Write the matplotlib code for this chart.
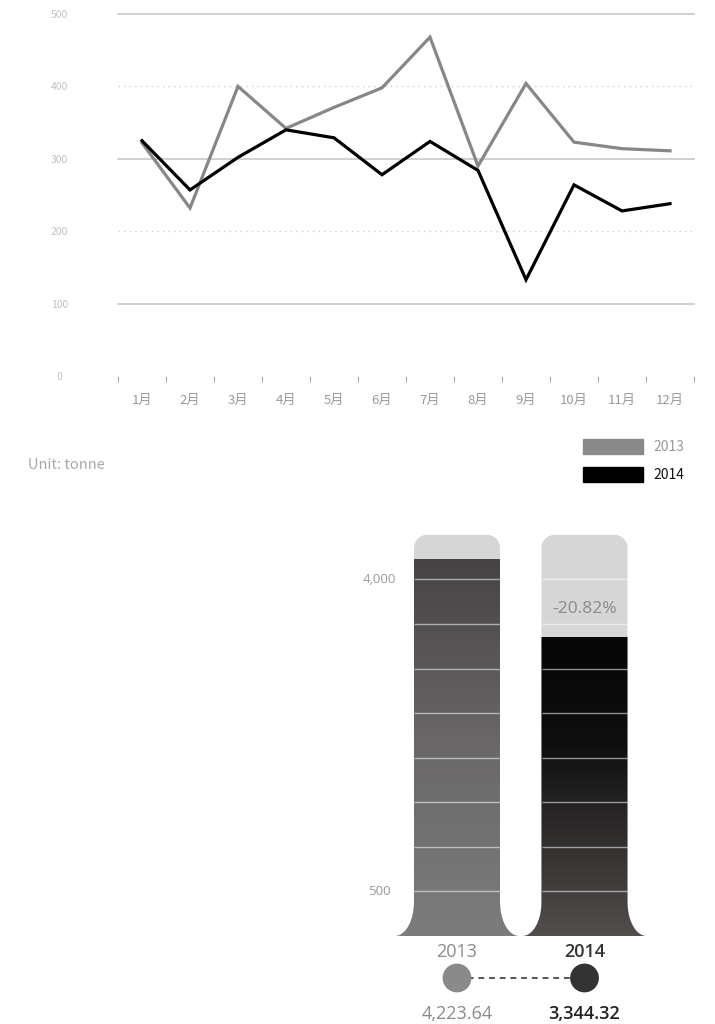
import numpy as np
import matplotlib.pyplot as plt
from matplotlib.colors import LinearSegmentedColormap
from matplotlib.patches import Polygon, Rectangle

plt.rcParams['font.family'] = ['Noto Sans CJK SC', 'DejaVu Sans']
LATIN = ['Open Sans', 'DejaVu Sans']

# --- data ---------------------------------------------------------------
months = ["1月", "2月", "3月", "4月", "5月", "6月",
          "7月", "8月", "9月", "10月", "11月", "12月"]
monthly_2013 = [322, 232, 400, 342, 371, 398, 468, 290, 404, 323, 314, 311]
monthly_2014 = [325, 257, 302, 340, 329, 278, 324, 284, 133, 264, 228, 238]
line_yticks = [0, 100, 200, 300, 400, 500]

years = ["2013", "2014"]
totals = [4223.64, 3344.32]
tube_top = 4500
tube_ticks = [500, 4000]
tube_tick_labels = ["500", "4,000"]

W, H = 715, 1024


def fx(px):
    return px / W


def fy(py):
    return 1 - py / H


fig = plt.figure(figsize=(W / 100, H / 100), dpi=100)
fig.patch.set_facecolor("white")

# ============================ LINE CHART ================================
ax = fig.add_axes([fx(118), fy(376), (694 - 118) / W, (376 - 14) / H])
x = np.arange(len(months)) + 0.5
ax.plot(x, monthly_2013, color="#878787", lw=2.3, zorder=3,
        solid_joinstyle="miter")
ax.plot(x, monthly_2014, color="#000000", lw=2.3, zorder=4,
        solid_joinstyle="miter")

for v in (100, 300, 500):
    ax.axhline(v, color="#c8c8c8", lw=1.2, zorder=1, clip_on=False)
for v in (200, 400):
    ax.axhline(v, color="#cfcfcf", lw=1.0, ls=(0, (1, 3)), zorder=1)

ax.set_xlim(0, 12)
ax.set_ylim(0, 500)
for s in ax.spines.values():
    s.set_visible(False)

ax.set_yticks(line_yticks)
ax.set_yticklabels([str(v) for v in line_yticks], ha="center")
ax.tick_params(axis="y", length=0, pad=42, labelsize=7.5, labelcolor="#c2c2c2")

ax.set_xticks(np.arange(13))
ax.set_xticklabels([])
ax.tick_params(axis="x", which="major", length=4.5, width=0.8,
               color="#aaaaaa", direction="out")
ax.set_xticks(x, minor=True)
ax.set_xticklabels(months, minor=True)
ax.tick_params(axis="x", which="minor", length=0, pad=13,
               labelsize=9.5, labelcolor="#9a9a9a")

# legend + unit
fig.patches.append(Rectangle((fx(583), fy(454)), 60 / W, 15 / H,
                             transform=fig.transFigure, color="#8a8a8a"))
fig.patches.append(Rectangle((fx(583), fy(482)), 60 / W, 15 / H,
                             transform=fig.transFigure, color="#000000"))
fig.text(fx(653), fy(447), "2013", color="#9a9a9a", fontsize=10, va="center")
fig.text(fx(653), fy(475), "2014", color="#111111", fontsize=10, va="center")
fig.text(fx(28), fy(465), "Unit: tonne", color="#a8a8a8", fontsize=10.5,
         va="center")

# ============================ TUBE CHART ================================
ppx = 127.5                # px per x unit
ppy = 0.08914              # px per value unit
y0_px = 936                # value 0
ax2 = fig.add_axes([fx(457 - ppx), 0, 3 * ppx / W, (H - 520) / H])
ax2.axis("off")

half_w = 43 / ppx
rx, ry = 13 / ppx, 13 / ppy          # top corner radius
fw, fh = 19 / ppx, 34 / ppy          # bottom flare


def tube_shape(cx):
    x0, x1 = cx - half_w, cx + half_w
    th = np.linspace(np.pi / 2, 0, 20)
    pts = []
    # left flare (bottom -> up)
    pts += list(zip(x0 - fw + fw * np.cos(th), fh - fh * np.sin(th)))
    # top-left corner
    a = np.linspace(np.pi, np.pi / 2, 20)
    pts += list(zip(x0 + rx + rx * np.cos(a), tube_top - ry + ry * np.sin(a)))
    # top-right corner
    a = np.linspace(np.pi / 2, 0, 20)
    pts += list(zip(x1 - rx + rx * np.cos(a), tube_top - ry + ry * np.sin(a)))
    # right flare (down)
    th = np.linspace(0, np.pi / 2, 20)
    pts += list(zip(x1 + fw - fw * np.cos(th), fh - fh * np.sin(th)))
    return np.array(pts)


cmaps = [
    LinearSegmentedColormap.from_list("t13", ["#7c7c7c", "#6a6868", "#454343"]),
    LinearSegmentedColormap.from_list(
        "t14", [(0, "#524e4e"), (0.35, "#2e2b2b"), (0.65, "#0e0e0e"), (1, "#060606")]),
]
grad = np.linspace(0, 1, 256).reshape(-1, 1)

for i, (yr, val) in enumerate(zip(years, totals)):
    shape = Polygon(tube_shape(i), closed=True, facecolor="#d6d6d6",
                    edgecolor="none", zorder=1)
    ax2.add_patch(shape)
    im = ax2.imshow(grad, cmap=cmaps[i], origin="lower", aspect="auto",
                    extent=(i - half_w - fw, i + half_w + fw, 0, val), zorder=2)
    im.set_clip_path(shape)
    ax2.hlines(np.arange(500, 4001, 500), i - half_w, i + half_w,
               colors="white", lw=1.0, alpha=0.55, zorder=3)

ax2.set_xlim(-1, 2)
ax2.set_ylim((y0_px - H) / ppy, (y0_px - 520) / ppy)

for v, lab in zip(tube_ticks, tube_tick_labels):
    ax2.text(-0.61, v, lab, ha="center", va="center", fontsize=9.5,
             color="#9a9a9a", family=LATIN)

pct = (totals[1] / totals[0] - 1) * 100
ax2.text(1, (totals[1] + 4000) / 2, f"{pct:.2f}%", ha="center", va="center",
         fontsize=12.5, color="#8a8a8a", family=LATIN)

# labels, dots and values under the tubes
name_colors = ["#8a8a8a", "#333333"]
dot_colors = ["#8a8a8a", "#333333"]
val_colors = ["#8a8a8a", "#222222"]
ax2.plot([0, 1], [-471, -471], color="#555555", lw=1.4, ls=(0, (3, 2.5)),
         zorder=4)
for i, (yr, val) in enumerate(zip(years, totals)):
    ax2.text(i, -180, yr, ha="center", va="center", fontsize=13,
             color=name_colors[i], family=LATIN,
             fontweight="semibold" if i else "normal")
    ax2.scatter([i], [-471], s=430, color=dot_colors[i], zorder=5,
                edgecolors="none")
    ax2.text(i, -875, f"{val:,.2f}", ha="center", va="center", fontsize=13,
             color=val_colors[i], family=LATIN,
             fontweight="semibold" if i else "normal")

fig.savefig("out.png", dpi=100)
